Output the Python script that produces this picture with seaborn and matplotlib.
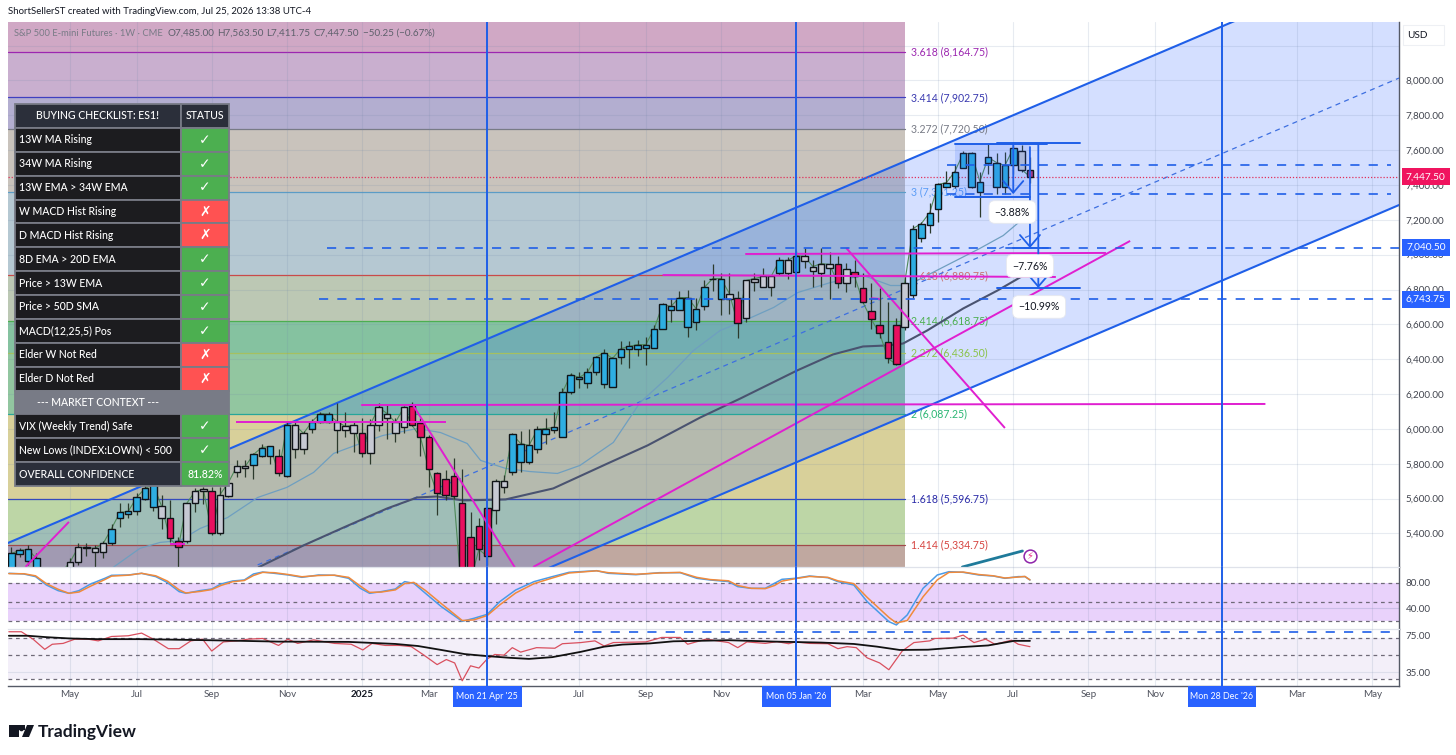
import numpy as np
import pandas as pd
import matplotlib
matplotlib.use("Agg")
import matplotlib.pyplot as plt
from matplotlib.patches import Polygon, Rectangle, Circle
from matplotlib.ticker import NullLocator
import seaborn as sns

# weekly candles, week 0 = Mon 21 Apr '25
weeks = np.arange(-57, 66)
highs = [5319, 5314, 5331, 5285, 5187, 5176, 5199, 5256, 5342, 5342,
         5331, 5359, 5451, 5577, 5572, 5629, 5687, 5704, 5623, 5589,
         5377, 5577, 5658, 5664, 5664, 5669, 5761, 5824, 5819, 5859,
         5916, 5899, 5887, 6037, 6042, 5985, 6054, 6094, 6094, 6151,
         6094, 6037, 6060, 6054, 6146, 6140, 6060, 6129, 6157, 6060,
         5962, 5755, 5761, 5830, 5767, 5520, 5486, 5549, 5715, 5733,
         5979, 5985, 5997, 6014, 6065, 6094, 6232, 6318, 6324, 6347,
         6421, 6456, 6415, 6502, 6507, 6513, 6530, 6594, 6720, 6749,
         6794, 6800, 6754, 6852, 6944, 6892, 6892, 6789, 6852, 6892,
         6921, 6886, 6984, 6984, 7024, 7036, 6967, 7036, 7013, 6995,
         6955, 6967, 6892, 6840, 6806, 6731, 6639, 6869, 7173, 7185,
         7294, 7409, 7483, 7523, 7598, 7587, 7472, 7638, 7581, 7587,
         7627, 7627, 7563.5]
lows = [5130, 5262, 5216, 5158, 5072, 5015, 5072, 5158, 5216, 5273,
        5187, 5256, 5331, 5434, 5491, 5503, 5589, 5526, 5428, 5348,
        5187, 5342, 5520, 5566, 5388, 5388, 5606, 5721, 5721, 5715,
        5836, 5796, 5727, 5721, 5830, 5853, 5974, 6031, 6031, 5859,
        5956, 5865, 5836, 5796, 5985, 5939, 5922, 5974, 6014, 5842,
        5664, 5503, 5589, 5600, 4785, 4958, 5245, 5216, 5451, 5629,
        5733, 5750, 5801, 5859, 5916, 5979, 5951, 6203, 6232, 6232,
        6312, 6232, 6243, 6375, 6352, 6421, 6364, 6467, 6576, 6611,
        6680, 6530, 6565, 6680, 6794, 6651, 6662, 6519, 6611, 6794,
        6812, 6760, 6881, 6863, 6892, 6921, 6812, 6812, 6743, 6806,
        6783, 6817, 6720, 6576, 6519, 6381, 6364, 6565, 6754, 7070,
        7122, 7185, 7386, 7380, 7495, 7380, 7219, 7466, 7351, 7351,
        7466, 7472, 7411.75]
opens = [5158, 5279, 5239, 5176, 5101, 5072, 5118, 5187, 5233, 5314,
         5291, 5291, 5342, 5491, 5509, 5526, 5600, 5549, 5491, 5491,
         5359, 5354, 5577, 5641, 5646, 5400, 5612, 5750, 5773, 5790,
         5842, 5842, 5842, 5727, 5887, 5887, 5997, 6037, 6042, 5991,
         5991, 5979, 5979, 5859, 6020, 6060, 5974, 6008, 6129, 6031,
         5956, 5744, 5710, 5727, 5577, 5382, 5440, 5543, 5532, 5664,
         5750, 5807, 5807, 5887, 5968, 5991, 5951, 6209, 6289, 6261,
         6324, 6255, 6243, 6410, 6456, 6461, 6467, 6467, 6576, 6685,
         6685, 6582, 6616, 6708, 6858, 6743, 6743, 6754, 6639, 6846,
         6817, 6817, 6892, 6892, 6898, 6961, 6909, 6892, 6921, 6949,
         6835, 6903, 6806, 6674, 6599, 6496, 6594, 6582, 6766, 7093,
         7173, 7265, 7391, 7397, 7500, 7386, 7357, 7529, 7391, 7386,
         7512, 7598, 7485]
closes = [5285, 5302, 5308, 5256, 5158, 5141, 5176, 5233, 5319, 5319,
          5314, 5342, 5428, 5520, 5526, 5606, 5658, 5681, 5555, 5371,
          5319, 5572, 5641, 5652, 5405, 5623, 5692, 5784, 5784, 5853,
          5893, 5899, 5744, 6020, 6020, 5974, 6042, 6088, 6083, 6042,
          6014, 6020, 5859, 6025, 6123, 6088, 6037, 6123, 6020, 5951,
          5767, 5629, 5618, 5612, 5015, 5130, 5308, 5268, 5698, 5698,
          5968, 5916, 5905, 5997, 6002, 6008, 6209, 6312, 6295, 6324,
          6410, 6438, 6404, 6461, 6473, 6484, 6484, 6576, 6714, 6703,
          6754, 6754, 6691, 6812, 6863, 6863, 6777, 6605, 6852, 6863,
          6875, 6875, 6967, 6967, 6995, 6990, 6932, 6949, 6944, 6835,
          6915, 6875, 6726, 6628, 6548, 6404, 6370, 6840, 7150, 7179,
          7242, 7403, 7414, 7477, 7581, 7581, 7420, 7558, 7529, 7512,
          7610, 7489, 7447.5]
# elder impulse colour of each candle
impulse = ("bbbbgggggg" "ggbbbbbbgr" "rgggrggggb" "bbrbggbbbg" "ggrgggggrr" "rrrrrrrrgg"
           "bbbbbbbbbb" "bbbbbbbbbb" "bbbbbbgrgg" "ggbgbggggr" "grrrrrrgbb" "bbbbbbbbbb" "bgp")

ma13_weeks = [-44.8, -41.6, -39.2, -36.8, -34.4, -31.1, -27.5, -24, -20.8, -18.4, -15.2, -12.5, -8.4, -5.6, -2.4,
              -0.8, 2.2, 5.1, 8.4, 11.1, 15.1, 18.3, 21.6, 24.7, 27.9, 30.3, 34.3, 37.2, 41.1, 45, 48.3, 50, 51.5,
              54.3, 59, 61.8, 63.5, 65]
ma13 = [5205, 5314, 5348, 5359, 5428, 5491, 5606, 5664, 5750, 5859, 5916, 5962, 6002, 5979, 5916,
        5819, 5773, 5755, 5744, 5790, 5922, 6151, 6295, 6450, 6565, 6611, 6697, 6783, 6840, 6881, 6823, 6823, 6852,
        6921, 7036, 7110, 7179, 7253]
ma34_weeks = [-27.4, -22, -17.2, -12, -8.4, -6, -2.9, 2.2, 7.9, 14.4, 19.2, 25.5, 30.3, 37.1, 41.4, 45, 48, 49.8,
              52.7, 57, 61.1, 63.8, 65]
ma34 = [5205, 5331, 5434, 5543, 5606, 5612, 5589, 5595, 5658, 5801, 5905, 6065, 6174, 6335, 6427, 6473, 6479, 6490,
        6565, 6691, 6794, 6869, 6898]

fib_names = ["3.618", "3.414", "3.272", "3", "2.618", "2.414", "2.272", "2", "1.618", "1.414"]
fib_prices = [8164.75, 7902.75, 7720.50, 7361.25, 6880.75, 6618.75, 6436.50, 6087.25, 5596.75, 5334.75]
fib_line_colors = ["#9c27b0", "#3f3fc0", "#787b86", "#5b9cc6", "#c94a4a", "#4caf50", "#a5c060", "#26a69a", "#2a3fc0",
                   "#a04a4a"]
fib_text_colors = ["#9c27b0", "#3a3ab0", "#787b86", "#5b9cf6", "#c87070", "#4caf50", "#8bc34a", "#2bb673", "#2a2aa8",
                   "#d64541"]
fib_band_colors = ["#d0a8c5", "#c9afcf", "#b3aed0", "#c9c3bc", "#b5c8d2", "#bcc8b4", "#85c2a0", "#92c6a0", "#d8d09a",
                   "#bdd6a6", "#c0a8a0"]

channel_weeks = [-57.4, 109.2]
channel_upper = [5345, 8743]
channel_lower = [3876, 7285]
channel_mid_weeks = [-27.5, 109.2]
channel_mid = [5219, 8014]

magenta_lines = [([-15.1, 93.2], [6137, 6143]), ([-30.1, -4.9], [6040, 6040]), ([-8.9, 3.5], [6137, 5190]),
                 ([-55.3, -50.1], [5208, 5466]), ([-38, -36.2], [5340, 5340]), ([5.5, 77], [5207, 7079]),
                 ([30.9, 74.1], [7004, 7010]), ([21, 68.1], [6883, 6872]), ([43, 62], [7038, 6005]),
                 ([46, 47], [6750, 6746])]
dashed_levels = [7040.5, 6743.75, 7515, 7351]
dashed_starts = [-19.2, -20.1, 55.1, 55.1]
dashed_ends = [109.2, 108.5, 108.3, 108.3]
last_price = 7447.5

range_box_weeks = [56, 65]
range_box_prices = [7331, 7635]
blue_segments = [([56, 67], [7635, 7635]), ([61.1, 71], [7641, 7641]), ([56, 65], [7331, 7331]),
                 ([61.1, 71], [6809, 6809]), ([63, 67.2], [7038, 7038])]
arrow_weeks = [63, 65, 66]
arrow_tops = [7641, 7618, 7635]
arrow_bottoms = [7348, 7038, 6809]
pct_weeks = [62.9, 65, 66.1]
pct_prices = [7245, 6935, 6700]
pct_labels = ["\u22123.88%", "\u22127.76%", "\u221210.99%"]

stoch_weeks = [-57.3, -55.5, -54.1, -52.8, -51.4, -50.1, -48.9, -47.5, -45.8, -45, -43, -41.4, -39.7, -38.3, -36.9,
               -36.1, -34.4, -33, -31.9, -30.5, -29.1, -28, -26.9, -25.5, -23.8, -22.2, -20.2, -18.3, -16.6, -15.2,
               -14.1, -12.7, -11, -9.9, -8.8, -7.4, -5.5, -3, -1.6, 0, 1.5, 3.4, 5.6, 7.8, 9.8, 13.1, 14.5, 17.8,
               20.6, 23.1, 25.1, 26.7, 28.9, 30, 31.6, 33.3, 34.4, 35.3, 36.9, 38.6, 40.8, 42, 43.9, 45.5, 48.1, 49,
               50.3, 52.2, 53.9, 55.3, 57, 58.9, 60.6, 62, 63.6, 64.4, 65]
stoch_k = [95.5, 94.4, 90.2, 76.8, 67.8, 63.5, 67.8, 78.4, 87.5, 92.3, 92.8, 95.5, 90.2, 80.6, 66.2,
           63.5, 67.8, 70.4, 78.4, 83.2, 84.8, 94.4, 97.6, 95.5, 92.8, 89.1, 92.8, 92.3, 87.5, 71.5,
           63.5, 66.2, 70.4, 82.2, 79.5, 63.5, 42.2, 18.7, 23.5, 29.9, 50.2, 68.8, 82.2, 90.2, 97.1, 99.7, 95.5, 93.3,
           96.5, 96.5, 87.5, 84.8, 82.2, 74.2, 71.5, 71.5, 79.5, 85.9, 87.5, 91.2, 88.5, 82.2, 76.8, 50.2, 18.2, 12.9,
           28.9, 71.5, 92.8, 98.1, 97.1, 92.8, 91.2, 87.5, 90.2, 90.2, 84.8]
stoch_d = [95, 94.8, 91.5, 79, 70, 63.5, 65.5, 75, 85.5, 91, 92.5, 95.5, 91.5, 83, 69,
           64, 66.5, 69.5, 76, 82, 84, 92, 97, 96.5, 93.5, 90, 92, 92.5, 89, 75,
           65, 65.5, 69, 79, 81, 68, 47, 20, 21, 28, 45, 64, 79, 88, 96, 99.5, 96.5, 94,
           96, 97, 89, 85.5, 83.5, 76, 71.5, 71, 76, 83, 87, 90.5, 89, 83.5, 79, 57, 25, 16,
           20, 58, 85, 97, 97.5, 93.5, 91.5, 88, 89.5, 90.5, 85]

rsi_weeks = [-57.3, -55.8, -54.4, -53, -52.1, -50.8, -49.4, -47.8, -46.6, -45, -43, -41.4, -40, -38.2, -36.9, -35.5,
             -34.1, -33, -31.6, -30, -28.6, -26.9, -25, -23.9, -22.7, -20.8, -18.3, -16.3, -14.9, -13.8, -12.2, -10.5,
             -9.1, -7.7, -6, -4.9, -3.9, -3, -2, -1, 0, 0.9, 2, 3, 4, 5.9, 8.1, 9, 11.2, 12.9, 14, 15.1, 19, 20.9,
             23.1, 24, 26.2, 28.9, 30, 31.1, 33.3, 34.7, 36.1, 36.9, 38.6, 40.8, 42, 43.1, 44.2, 45.5, 47, 48.1, 49.7,
             51.1, 53, 53.6, 55.8, 57, 58.3, 59.7, 60.8, 62.8, 63.6, 65]
rsi = [80.4, 80.4, 69, 55.9, 62.1, 63.2, 69, 69, 66.6, 72.9, 74, 78.2, 69, 56.7, 56.7, 66.6,
       69, 54, 65.2, 66.6, 69, 70, 60.6, 69, 63.2, 68, 63.2, 62.1, 55.2, 63.2, 60.6, 60.6,
       59.1, 50.3, 40.8, 45.3, 42.2, 29.2, 39.8, 38, 45.9, 50.3, 49.6, 57.9, 52.8, 57.9, 57.2, 62.8, 64.3, 66.6, 59.9,
       64.3, 65.2, 71.5, 71.5, 62.1, 69, 64.3, 57.9, 65.2, 63.2, 65.6, 62.8, 65.2, 63.2, 62.8, 56.7, 59.1, 57.9, 46.9,
       42.2, 36.7, 54, 64.3, 66.6, 70, 70.5, 75, 64.3, 69, 62.1, 67.5, 62.1, 59.1]
rsi_ma_weeks = [-57.3, -55, -52.8, -50, -46.6, -41.6, -33.3, -25, -16.6, -11, -8.3, -5.5, -2.7, 0, 2.8, 5, 7.8, 11.2,
                14, 16.2, 19.5, 22.3, 25.1, 28.9, 34.4, 40, 43.9, 46.7, 49.4, 52.8, 56.7, 60, 63.1, 65]
rsi_ma = [74, 74, 71.9, 70, 69, 69, 67.5, 65.6, 65.2, 62.5, 59.9, 55.2, 50.7, 48.6, 46.9, 45.9, 47.6, 53.1,
          59.1, 61.7, 63.2, 66, 66.6, 67.5, 65.6, 64.3, 62.5, 59.1, 55.2, 55.5, 58.5, 60.6, 66.6, 66.6]

tick_weeks = [-50, -42, -33, -24, -15, -7, 11, 19, 28, 45, 54, 63, 72, 80, 97, 106]
tick_names = ["May", "Jul", "Sep", "Nov", "2025", "Mar", "Jul", "Sep", "Nov", "Mar", "May", "Jul", "Sep", "Nov", "Mar",
              "May"]
marker_weeks = [0, 37, 88]
marker_names = ["Mon 21 Apr '25", "Mon 05 Jan '26", "Mon 28 Dec '26"]
price_ticks = list(range(5400, 8001, 200))

ohlc_text = ["O7,485.00", "H7,563.50", "L7,411.75", "C7,447.50", "\u221250.25 (\u22120.67%)"]
ohlc_px = [168, 217, 266, 314, 363]

check_rows = ["13W MA Rising", "34W MA Rising", "13W EMA > 34W EMA", "W MACD Hist Rising", "D MACD Hist Rising",
              "8D EMA > 20D EMA", "Price > 13W EMA", "Price > 50D SMA", "MACD(12,25,5) Pos", "Elder W Not Red",
              "Elder D Not Red", "--- MARKET CONTEXT ---", "VIX (Weekly Trend) Safe", "New Lows (INDEX:LOWN) < 500",
              "OVERALL CONFIDENCE"]
check_state = ["\u2713", "\u2713", "\u2713", "\u2717", "\u2717", "\u2713", "\u2713", "\u2713", "\u2713", "\u2717",
               "\u2717", "", "\u2713", "\u2713", "81.82%"]

BLUE = "#1f5fe8"
MAGENTA = "#e01fd0"
W, H = 1456, 755
X_LEFT, X_RIGHT = -57.4, 109.2

sns.set_theme(style="white")
plt.rcParams["font.family"] = ["Lato", "DejaVu Sans"]
plt.rcParams["axes.unicode_minus"] = False

fig = plt.figure(figsize=(W / 100, H / 100), dpi=100, facecolor="white")


def pane(top, bottom):
    return fig.add_axes([8 / W, 1 - bottom / H, 1391 / W, (bottom - top) / H])


ax = pane(22, 567)
ax_stoch = pane(567, 629)
ax_rsi = pane(629, 685.5)

# fib bands and levels
band_edges = [8500] + fib_prices + [4700]
for i, c in enumerate(fib_band_colors):
    ax.fill_between([X_LEFT, 50.05], band_edges[i + 1], band_edges[i], color=c, lw=0, zorder=1)
for name, p, lc, tc in zip(fib_names, fib_prices, fib_line_colors, fib_text_colors):
    ax.plot([X_LEFT, 50.05], [p, p], color=lc, lw=0.9, zorder=2.5)
    ax.text(50.8, p, f"{name} ({p:,.2f})", color=tc, fontsize=7.6, va="center", ha="left", zorder=3)

# channel
ax.fill_between(channel_weeks, channel_lower, channel_upper, color="#2962ff", alpha=0.2, lw=0, zorder=2)
ax.plot(channel_weeks, channel_upper, color=BLUE, lw=1.5, zorder=4)
ax.plot(channel_weeks, channel_lower, color=BLUE, lw=1.5, zorder=4)
ax.plot(channel_mid_weeks, channel_mid, color="#3d6fe0", lw=0.9, ls=(0, (4, 3.5)), zorder=4)

sns.lineplot(x=ma13_weeks, y=ma13, ax=ax, color="#6f9fc0", lw=0.9, estimator=None, sort=False, zorder=4)
sns.lineplot(x=ma34_weeks, y=ma34, ax=ax, color="#4a5370", lw=1.5, estimator=None, sort=False, zorder=4)
ax.plot(weeks, closes, color="#4f8a5a", lw=0.8, zorder=4.5)

# candles
palette = {"b": "#2eaee2", "r": "#e8105f", "g": "#c6c9d3", "p": "#a23c90"}
df = pd.DataFrame({"week": weeks, "o": opens, "h": highs, "l": lows, "c": closes, "kind": list(impulse)})
ax.vlines(df["week"], df["l"], df["h"], color="#2c3a2c", lw=0.9, zorder=5)
ax.bar(df["week"], (df["o"] - df["c"]).abs(), bottom=df[["o", "c"]].min(axis=1), width=0.78,
       color=[palette[k] for k in df["kind"]], edgecolor="#101418", lw=1.0, zorder=6)

for xs, ys in magenta_lines:
    ax.plot(xs, ys, color=MAGENTA, lw=1.4, zorder=7, solid_capstyle="butt")

for p, x0, x1 in zip(dashed_levels, dashed_starts, dashed_ends):
    ax.plot([x0, x1], [p, p], color=BLUE, lw=1.2, ls=(0, (5.5, 5.5)), zorder=7)
ax.axhline(last_price, color="#e0305a", lw=0.9, ls=(0, (1, 1.5)), zorder=4)

ax.add_patch(Rectangle((range_box_weeks[0], range_box_prices[0]), range_box_weeks[1] - range_box_weeks[0],
                       range_box_prices[1] - range_box_prices[0], fc="#2962ff", alpha=0.16, lw=0, zorder=6.5))
for xs, ys in blue_segments:
    ax.plot(xs, ys, color=BLUE, lw=1.4, zorder=8)
for wk, top, bot in zip(arrow_weeks, arrow_tops, arrow_bottoms):
    ax.annotate("", xy=(wk, bot), xytext=(wk, top), zorder=8,
                arrowprops=dict(arrowstyle="->,head_width=0.6,head_length=0.7", color=BLUE, lw=1.3,
                                shrinkA=0, shrinkB=0))
for wk, p, s in zip(pct_weeks, pct_prices, pct_labels):
    ax.text(wk, p, s, fontsize=7.6, color="#131722", ha="center", va="center", zorder=9,
            bbox=dict(boxstyle="round,pad=0.55", fc="white", ec="#e6e8ee", lw=0.6))

ax.plot([56.9, 64.1], [5207, 5299], color="#1f7a9a", lw=2, zorder=7)
ax.scatter([65], [5271], s=85, facecolor="white", edgecolor="#8e24aa", lw=1.1, zorder=8)
ax.text(65, 5270, "\u26a1", color="#e8308a", fontsize=7, ha="center", va="center", zorder=9,
        family=["DejaVu Sans"])

# stochastic pane
ax_stoch.fill_between([X_LEFT, X_RIGHT], 20, 80, color="#e9d2fb", lw=0, zorder=1)
for lv in [80, 50, 20]:
    ax_stoch.axhline(lv, color="#6f6a78", lw=0.9, ls=(0, (3, 3)), zorder=2)
sns.lineplot(x=stoch_weeks, y=stoch_k, ax=ax_stoch, color="#4a9be8", lw=1.1, estimator=None, sort=False, zorder=5)
sns.lineplot(x=stoch_weeks, y=stoch_d, ax=ax_stoch, color="#f08a3c", lw=1.1, estimator=None, sort=False, zorder=6)

# rsi pane, log scale
ax_rsi.set_yscale("log")
ax_rsi.fill_between([X_LEFT, X_RIGHT], 30, 70, color="#f3eff9", lw=0, zorder=1)
for lv in [70, 50, 30]:
    ax_rsi.axhline(lv, color="#6f6a78", lw=0.9, ls=(0, (3, 3)), zorder=2)
ax_rsi.plot([10.4, X_RIGHT], [79.4, 79.4], color=BLUE, lw=1.2, ls=(0, (5.5, 5.5)), zorder=7)
sns.lineplot(x=rsi_weeks, y=rsi, ax=ax_rsi, color="#d9505f", lw=0.9, estimator=None, sort=False, zorder=5)
sns.lineplot(x=rsi_ma_weeks, y=rsi_ma, ax=ax_rsi, color="#111111", lw=1.3, estimator=None, sort=False, zorder=6)

# shared axis dress
ax.set_ylim(5207, 8335.8)
ax_stoch.set_ylim(6.4, 105.6)
ax_rsi.set_ylim(26.5, 85.1)
for a in (ax, ax_stoch, ax_rsi):
    a.set_xlim(X_LEFT, X_RIGHT)
    a.set_xticks(tick_weeks + marker_weeks)
    a.grid(True, axis="x", color="#6f86a8", alpha=0.16, lw=0.8, zorder=3)
    a.set_axisbelow(False)
    a.yaxis.tick_right()
    a.yaxis.set_minor_locator(NullLocator())
    a.tick_params(axis="y", length=0, pad=5, labelsize=7.1, labelcolor="#42454f")
    a.tick_params(axis="x", length=0, labelbottom=False)
    for s in a.spines.values():
        s.set_visible(False)
    a.spines["right"].set_visible(True)
    a.spines["right"].set_color("#555a66")
    a.spines["right"].set_linewidth(1.0)
    a.set_xlabel("")
    a.set_ylabel("")
    for wk in marker_weeks:
        a.axvline(wk, color=BLUE, lw=1.4, zorder=8)
for a in (ax_stoch, ax_rsi):
    a.spines["top"].set_visible(True)
    a.spines["top"].set_color("#dfe2ea")
    a.spines["top"].set_linewidth(0.9)

ax.set_yticks(price_ticks)
ax.set_yticklabels([f"{p:,.2f}" for p in price_ticks])
ax.grid(True, axis="y", color="#6f86a8", alpha=0.16, lw=0.8, zorder=3)
ax.axhline(8200, color="#6f86a8", alpha=0.16, lw=0.8, zorder=3)
ax_stoch.set_yticks([80, 40])
ax_stoch.set_yticklabels(["80.00", "40.00"])
ax_stoch.axhline(40, color="#6f86a8", alpha=0.25, lw=0.8, zorder=3)
ax_rsi.set_yticks([75, 35])
ax_rsi.set_yticklabels(["75.00", "35.00"])
ax_rsi.axhline(35, color="#6f86a8", alpha=0.16, lw=0.8, zorder=3)
ax_rsi.spines["bottom"].set_visible(True)
ax_rsi.spines["bottom"].set_color("#555a66")
ax_rsi.spines["bottom"].set_linewidth(1.0)

ax_rsi.tick_params(axis="x", labelbottom=True, pad=3, labelsize=7.1, labelcolor="#50535e")
ax_rsi.set_xticks(tick_weeks)
ax_rsi.set_xticklabels(tick_names)
for lab in ax_rsi.get_xticklabels():
    if lab.get_text() == "2025":
        lab.set_color("#131722")
        lab.set_fontweight("bold")
for wk, s in zip(marker_weeks, marker_names):
    # date tag: 69 px wide, 21 px tall under the pane
    ax_rsi.add_patch(Rectangle((wk - 4.13, -21.5 / 56.5), 8.26, 21.5 / 56.5, fc="#2962ff", lw=0, clip_on=False,
                               transform=ax_rsi.get_xaxis_transform(), zorder=10))
    ax_rsi.annotate(s, xy=(wk, 0), xycoords=ax_rsi.get_xaxis_transform(), xytext=(0, -7.8),
                    textcoords="offset points", ha="center", va="center", fontsize=6.4, color="white",
                    annotation_clip=False, zorder=11)

# price tags on the scale
for p, s, c in [(7447.5, "7,447.50", "#f0145f"), (7040.5, "7,040.50", "#2962ff"), (6743.75, "6,743.75", "#2962ff")]:
    ax.annotate(s, xy=(1, p), xycoords=ax.get_yaxis_transform(), xytext=(19.3, 0), textcoords="offset points",
                ha="center", va="center", fontsize=7.3, color="white", annotation_clip=False, zorder=12,
                bbox=dict(boxstyle="square,pad=0.42", fc=c, ec="none"))

# checklist table
cell_text = [["BUYING CHECKLIST: ES1!", "STATUS"]] + [[r, s] for r, s in zip(check_rows, check_state)]
colors = []
for i, row in enumerate(cell_text):
    if i == 0:
        colors.append(["#2b2f3a", "#2b2f3a"])
    elif row[0].startswith("---"):
        colors.append(["#787b86", "#787b86"])
    elif row[0].startswith("OVERALL"):
        colors.append(["#2b2f3a", "#4caf50"])
    else:
        colors.append(["#1c1c1f", "#4caf50" if row[1] == "\u2713" else "#ff5252"])
table = ax.table(cellText=cell_text, cellColours=colors, colWidths=[166, 48],
                 bbox=[7 / 1391, (567 - 486) / 545, 214 / 1391, 382 / 545], zorder=20)
table.auto_set_font_size(False)
for (r, c), cell in table.get_celld().items():
    cell.set_edgecolor("#787b86")
    cell.set_linewidth(1.3)
    txt = cell.get_text()
    txt.set_color("white")
    txt.set_fontsize(7.6)
    txt.set_fontweight("medium")
    cell.PAD = 0.025
    if c == 1 or r == 0 or cell_text[r][0].startswith("---"):
        txt.set_ha("center")
        cell._loc = "center"
    else:
        txt.set_ha("left")
        cell._loc = "left"
    if c == 1 and cell_text[r][1] in ("\u2713", "\u2717"):
        txt.set_fontsize(10)
        txt.set_fontweight("bold")

# page furniture in pixel space
over = fig.add_axes([0, 0, 1, 1], facecolor="none", zorder=30)
over.set_xlim(0, W)
over.set_ylim(H, 0)
over.axis("off")
over.text(8, 12, "ShortSellerST created with TradingView.com, Jul 25, 2026 13:38 UTC-4", fontsize=6.95,
          color="#131722", va="center")
over.text(14, 33, "S&P 500 E-mini Futures \u00b7 1W \u00b7 CME", fontsize=6.75, color="#787b86", va="center")
for s, x in zip(ohlc_text, ohlc_px):
    over.text(x, 33, s, fontsize=7.1, color="#5d606b", va="center")
over.add_patch(Rectangle((1403, 25), 41, 20, fc="white", ec="#eef0f4", lw=0.8))
over.text(1417, 35.5, "USD", fontsize=7.2, color="#131722", va="center", ha="center")
over.add_patch(Rectangle((9, 725), 10, 12, fc="#131722", lw=0))
over.add_patch(Rectangle((9, 725), 16, 4.5, fc="#131722", lw=0))
over.add_patch(Circle((21.5, 729), 2.3, fc="#131722", lw=0))
over.add_patch(Polygon([[27, 725], [34, 725], [29, 737], [22, 737]], fc="#131722", lw=0))
over.text(38, 731.5, "TradingView", fontsize=12.5, fontweight="bold", color="#131722", va="center")

fig.savefig("out.png", dpi=100)
